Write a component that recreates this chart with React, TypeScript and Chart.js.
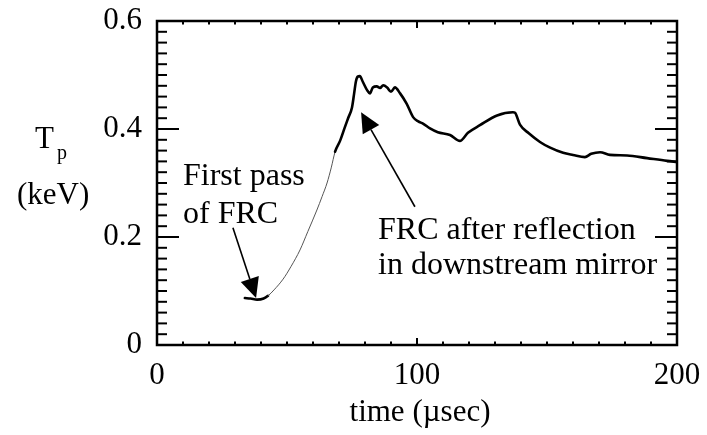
import React, { useEffect, useRef } from 'react';
import { Chart, registerables } from 'chart.js';

Chart.register(...registerables);

// Proton temperature history (time in microseconds, temperature in keV)
const timeUs = [
  33.8, 36, 38.5, 41, 42.7, 45, 48.5, 51.5, 55, 58, 61.5, 63.5, 65.4, 67, 68.5,
  70.4, 72.3, 73.5, 75, 75.8, 76.5, 77.2, 78, 79.2, 80.8, 81.9, 83, 84.5, 85.8,
  87, 88.5, 90, 91.5, 93.5, 96, 98.5, 100.5, 102.3, 105, 108, 112.7, 116.5,
  119.6, 124.2, 130.8, 136.9, 137.7, 139.6, 143, 147.3, 151, 156.2, 160, 164.6,
  167, 170.4, 174.2, 180.8, 188.5, 196.2, 200,
];
const tempKeV = [
  0.087, 0.086, 0.084, 0.086, 0.091, 0.102, 0.122, 0.145, 0.176, 0.21, 0.25,
  0.275, 0.3, 0.328, 0.358, 0.378, 0.404, 0.42, 0.44, 0.465, 0.488, 0.497,
  0.498, 0.487, 0.472, 0.466, 0.477, 0.479, 0.476, 0.481, 0.477, 0.469, 0.477,
  0.466, 0.447, 0.422, 0.414, 0.41, 0.401, 0.394, 0.389, 0.378, 0.393, 0.407,
  0.425, 0.431, 0.43, 0.408, 0.392, 0.376, 0.366, 0.356, 0.352, 0.348, 0.354,
  0.357, 0.352, 0.351, 0.346, 0.341, 0.339,
];

// Stretch of the trace that was only sampled sparsely (drawn as a hairline)
const sparseStart = 42.7;
const sparseEnd = 68.5;

const xTickValues = [0, 100, 200];
const yTickLabels = ['0', '0.2', '0.4', '0.6'];

const FONT = "'Liberation Serif', 'Times New Roman', Times, serif";

type Note = { lines: string[]; at: [number, number]; lineGap: number };
type Arrow = { from: [number, number]; to: [number, number] };

const notes: Note[] = [
  { lines: ['First pass', 'of FRC'], at: [10, 0.296], lineGap: 38 },
  { lines: ['FRC after reflection', 'in downstream mirror'], at: [85, 0.196], lineGap: 35 },
];

const arrows: Arrow[] = [
  { from: [29.2, 0.217], to: [38.1, 0.087] },
  { from: [99.2, 0.256], to: [78.5, 0.431] },
];

const framePlugin = {
  id: 'frameAndNotes',
  afterDraw(chart: any) {
    const { ctx, chartArea: a, scales } = chart;
    const x = scales.x;
    const y = scales.y;
    ctx.save();
    ctx.strokeStyle = '#000';
    ctx.fillStyle = '#000';

    // Box around the plot
    ctx.lineWidth = 2.5;
    ctx.strokeRect(a.left, a.top, a.right - a.left, a.bottom - a.top);

    const seg = (x1: number, y1: number, x2: number, y2: number) => {
      ctx.beginPath();
      ctx.moveTo(x1, y1);
      ctx.lineTo(x2, y2);
      ctx.stroke();
    };

    // Inward ticks on the temperature axis (minor 0.02, major 0.2)
    ctx.lineWidth = 2;
    for (let i = 0; i <= 30; i++) {
      const py = y.getPixelForValue(i * 0.02);
      const len = i % 10 === 0 ? 22 : 10;
      seg(a.left, py, a.left + len, py);
      seg(a.right, py, a.right - len, py);
    }
    // Inward ticks on the time axis (minor 10, major 100)
    for (let i = 0; i <= 20; i++) {
      const px = x.getPixelForValue(i * 10);
      const len = i % 10 === 0 ? 7 : 3.5;
      seg(px, a.bottom, px, a.bottom - len);
      seg(px, a.top, px, a.top + len);
    }

    // Arrows
    ctx.lineWidth = 1.6;
    for (const ar of arrows) {
      const x1 = x.getPixelForValue(ar.from[0]);
      const y1 = y.getPixelForValue(ar.from[1]);
      const x2 = x.getPixelForValue(ar.to[0]);
      const y2 = y.getPixelForValue(ar.to[1]);
      const ang = Math.atan2(y2 - y1, x2 - x1);
      const headLen = 20;
      const halfW = 9.5;
      const bx = x2 - headLen * Math.cos(ang);
      const by = y2 - headLen * Math.sin(ang);
      seg(x1, y1, bx, by);
      ctx.beginPath();
      ctx.moveTo(x2, y2);
      ctx.lineTo(bx + halfW * Math.sin(ang), by - halfW * Math.cos(ang));
      ctx.lineTo(bx - halfW * Math.sin(ang), by + halfW * Math.cos(ang));
      ctx.closePath();
      ctx.fill();
    }

    // Annotation text
    ctx.font = `32px ${FONT}`;
    ctx.textAlign = 'left';
    ctx.textBaseline = 'alphabetic';
    for (const n of notes) {
      const px = x.getPixelForValue(n.at[0]);
      const py = y.getPixelForValue(n.at[1]);
      n.lines.forEach((t, i) => ctx.fillText(t, px, py + i * n.lineGap));
    }

    // Axis titles
    ctx.font = `31px ${FONT}`;
    ctx.fillText('T', 35, 148);
    ctx.font = `20px ${FONT}`;
    ctx.fillText('p', 57, 159);
    ctx.font = `31px ${FONT}`;
    ctx.fillText('(keV)', 17, 204);
    ctx.textAlign = 'center';
    ctx.fillText('time (\u00b5sec)', (a.left + a.right) / 2 + 3, 421);

    ctx.restore();
  },
};

export default function App() {
  const canvasRef = useRef<HTMLCanvasElement | null>(null);

  useEffect(() => {
    document.body.style.margin = '0';
    const canvas = canvasRef.current;
    if (!canvas) return;

    const inSparse = (c: any) =>
      c.p0.parsed.x >= sparseStart && c.p1.parsed.x <= sparseEnd;

    const chart = new Chart(canvas, {
      type: 'line',
      data: {
        datasets: [
          {
            data: timeUs.map((t, i) => ({ x: t, y: tempKeV[i] })),
            borderColor: '#000',
            borderWidth: 2.6,
            pointRadius: 0,
            fill: false,
            cubicInterpolationMode: 'monotone',
            borderJoinStyle: 'round',
            borderCapStyle: 'round',
            segment: {
              borderWidth: (c: any) => (inSparse(c) ? 1 : 2.6),
              borderColor: (c: any) => (inSparse(c) ? '#555' : '#000'),
            },
          } as any,
        ],
      },
      options: {
        responsive: false,
        animation: false,
        devicePixelRatio: 1,
        layout: { padding: { left: 0, top: 21, right: 30, bottom: 0 } },
        plugins: {
          legend: { display: false },
          tooltip: { enabled: false },
        },
        scales: {
          x: {
            type: 'linear',
            min: 0,
            max: 200,
            afterBuildTicks: (s: any) => {
              s.ticks = xTickValues.map((v) => ({ value: v }));
            },
            afterFit: (s: any) => {
              s.height = 90;
              s.paddingLeft = 0;
              s.paddingRight = 0;
            },
            ticks: {
              color: '#000',
              font: { family: FONT, size: 31 },
              padding: 12,
              maxRotation: 0,
              autoSkip: false,
            },
            grid: { display: false, drawTicks: false },
            border: { display: false },
          },
          y: {
            type: 'linear',
            min: 0,
            max: 0.6,
            afterBuildTicks: (s: any) => {
              s.ticks = yTickLabels.map((l) => ({ value: Number(l) }));
            },
            afterFit: (s: any) => {
              s.width = 157;
              s.paddingTop = 0;
              s.paddingBottom = 0;
            },
            ticks: {
              color: '#000',
              font: { family: FONT, size: 31 },
              padding: 15,
              autoSkip: false,
              callback: (v: any) => yTickLabels.find((l) => Math.abs(Number(l) - v) < 1e-9) ?? '',
            },
            grid: { display: false, drawTicks: false },
            border: { display: false },
          },
        },
      } as any,
      plugins: [framePlugin],
    });

    return () => chart.destroy();
  }, []);

  return (
    <div style={{ width: 707, height: 435, background: '#fff' }}>
      <canvas ref={canvasRef} width={707} height={435} />
    </div>
  );
}
